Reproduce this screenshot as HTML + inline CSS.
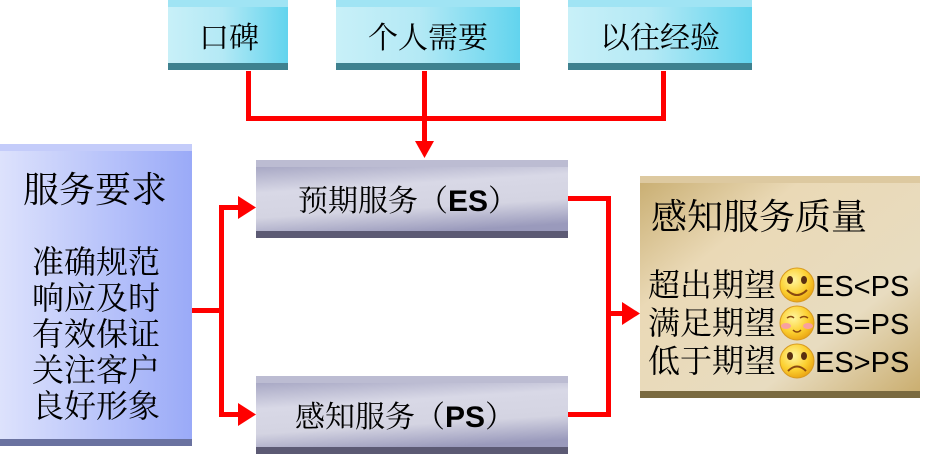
<!DOCTYPE html>
<html><head><meta charset="utf-8"><style>
html,body{margin:0;padding:0;background:#fff;width:927px;height:460px;overflow:hidden}
svg{display:block}
text{font-family:"Noto Serif CJK SC","Liberation Serif","WenQuanYi Zen Hei",serif;fill:#000}
.s{font-family:"Liberation Sans","Noto Sans CJK SC",sans-serif}
</style></head><body>
<svg width="927" height="460" viewBox="0 0 927 460" xmlns="http://www.w3.org/2000/svg">
<defs>
<linearGradient id="cy" x1="0" x2="1" y1="0" y2="0"><stop offset="0" stop-color="#c8f0f8"/><stop offset="0.45" stop-color="#b4e9f5"/><stop offset="1" stop-color="#62d4ee"/></linearGradient>
<linearGradient id="bl" x1="0" x2="1"><stop offset="0" stop-color="#dde2fc"/><stop offset="1" stop-color="#9aaaf8"/></linearGradient>
<linearGradient id="gr" x1="0" y1="0" x2="0.25" y2="1"><stop offset="0" stop-color="#9c9cbc"/><stop offset="0.4" stop-color="#d8d8e6"/><stop offset="0.7" stop-color="#d4d4e2"/><stop offset="1" stop-color="#9a9abc"/></linearGradient>
<linearGradient id="gd" x1="0" y1="0" x2="1" y2="1"><stop offset="0" stop-color="#c8ad70"/><stop offset="0.3" stop-color="#ead9b6"/><stop offset="0.7" stop-color="#e8dcc0"/><stop offset="1" stop-color="#c9ac6c"/></linearGradient>
<radialGradient id="fc" cx="0.4" cy="0.35" r="0.7"><stop offset="0" stop-color="#fff6a0"/><stop offset="0.6" stop-color="#fcd030"/><stop offset="1" stop-color="#e8a010"/></radialGradient>
</defs>
<g>
<rect x="168" y="0" width="120" height="70" fill="url(#cy)"/><rect x="168" y="0" width="120" height="7" fill="#a0e4f4"/><rect x="168" y="63" width="120" height="7" fill="#3e818f"/>
<rect x="336" y="0" width="184" height="70" fill="url(#cy)"/><rect x="336" y="0" width="184" height="7" fill="#a0e4f4"/><rect x="336" y="63" width="184" height="7" fill="#3e818f"/>
<rect x="568" y="0" width="184" height="70" fill="url(#cy)"/><rect x="568" y="0" width="184" height="7" fill="#a0e4f4"/><rect x="568" y="63" width="184" height="7" fill="#3e818f"/>
<text x="229" y="48" font-size="30" text-anchor="middle">口碑</text>
<text x="428" y="48" font-size="30" text-anchor="middle">个人需要</text>
<text x="660" y="48" font-size="30" text-anchor="middle">以往经验</text>
</g>
<g fill="#ff0000">
<rect x="246" y="71" width="5" height="50"/><rect x="246" y="116" width="420" height="5"/><rect x="661" y="71" width="5" height="50"/>
<rect x="422" y="71" width="5" height="74"/><polygon points="415,141 434,141 424.5,158"/>
</g>
<rect x="0" y="144" width="192" height="302" fill="url(#bl)"/><rect x="0" y="144" width="192" height="7" fill="#c4ccfa"/><rect x="0" y="439" width="192" height="7" fill="#6a72a0"/>
<text x="95" y="202" font-size="36" text-anchor="middle">服务要求</text>
<g font-size="32" text-anchor="middle">
<text x="96" y="273">准确规范</text><text x="96" y="309">响应及时</text><text x="96" y="345">有效保证</text><text x="96" y="381">关注客户</text><text x="96" y="417">良好形象</text>
</g>
<rect x="256" y="160" width="312" height="78" fill="url(#gr)"/><rect x="256" y="160" width="312" height="7" fill="#bcbcd2"/><rect x="256" y="231" width="312" height="7" fill="#5c5a74"/>
<text x="298" y="211" font-size="30">预期服务（<tspan class="s" font-weight="bold">ES</tspan>）</text>
<rect x="256" y="376" width="312" height="78" fill="url(#gr)"/><rect x="256" y="376" width="312" height="7" fill="#bcbcd2"/><rect x="256" y="447" width="312" height="7" fill="#5c5a74"/>
<text x="295" y="427" font-size="30">感知服务（<tspan class="s" font-weight="bold">PS</tspan>）</text>
<g fill="#ff0000">
<rect x="192" y="308" width="32" height="5"/><rect x="219" y="205" width="5" height="212"/>
<rect x="219" y="205" width="20" height="5"/><polygon points="238,196 256,207.5 238,219"/>
<rect x="219" y="412" width="20" height="5"/><polygon points="238,403 256,414.5 238,426"/>
<rect x="568" y="196" width="43" height="5"/><rect x="606" y="196" width="5" height="221"/><rect x="568" y="412" width="43" height="5"/>
<rect x="606" y="311" width="20" height="5"/><polygon points="622,302 640,313.5 622,325"/>
</g>
<rect x="640" y="176" width="280" height="222" fill="url(#gd)"/><rect x="640" y="176" width="280" height="7" fill="#ddc9a0"/><rect x="640" y="391" width="280" height="7" fill="#7a6a40"/>
<text x="651" y="229" font-size="36">感知服务质量</text>
<g font-size="32">
<text x="648" y="296">超出期望</text><text x="648" y="334">满足期望</text><text x="648" y="372">低于期望</text>
</g>
<g font-size="29">
<text class="s" x="815" y="296">ES&lt;PS</text><text class="s" x="815" y="334">ES=PS</text><text class="s" x="815" y="372">ES&gt;PS</text>
</g>
<g>
<circle cx="797" cy="285" r="17" fill="url(#fc)" stroke="#d89a20" stroke-width="1"/>
<ellipse cx="790" cy="280" rx="3" ry="4" fill="#5a3010"/><ellipse cx="804" cy="280" rx="3" ry="4" fill="#5a3010"/>
<path d="M787 290 Q797 300 807 290" stroke="#8a4a10" stroke-width="2" fill="none"/>
<circle cx="797" cy="323" r="17" fill="url(#fc)" stroke="#d89a20" stroke-width="1"/>
<path d="M787 318 Q791 315 794 318 M800 318 Q804 315 808 318" stroke="#8a4a10" stroke-width="1.5" fill="none"/>
<ellipse cx="786" cy="326" rx="5" ry="3" fill="#f8a0a0"/><ellipse cx="808" cy="326" rx="5" ry="3" fill="#f8a0a0"/>
<path d="M793 330 Q797 334 801 330" stroke="#8a4a10" stroke-width="1.5" fill="none"/>
<circle cx="797" cy="361" r="17" fill="url(#fc)" stroke="#d89a20" stroke-width="1"/>
<ellipse cx="790" cy="356" rx="3" ry="4" fill="#5a3010"/><ellipse cx="804" cy="356" rx="3" ry="4" fill="#5a3010"/>
<path d="M788 371 Q797 362 806 371" stroke="#8a4a10" stroke-width="2" fill="none"/>
</g>
</svg>
</body></html>
